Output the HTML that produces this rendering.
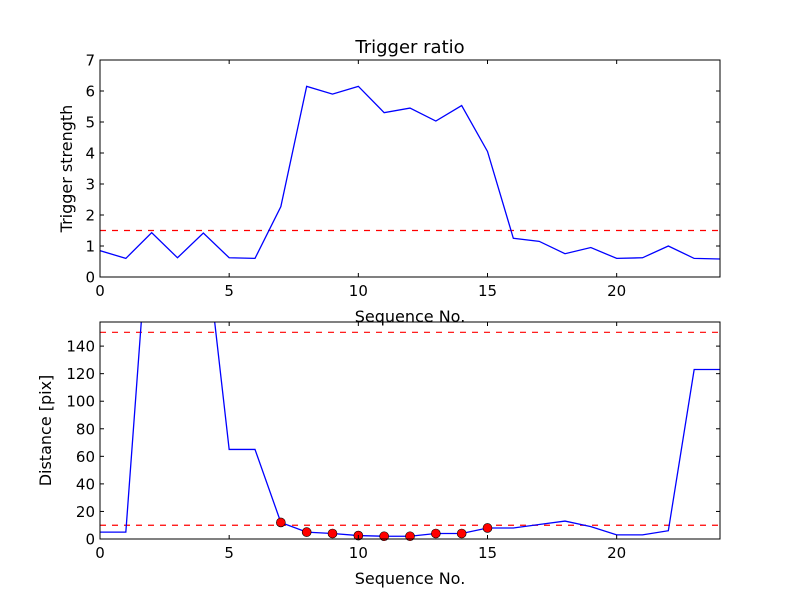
<!DOCTYPE html>
<html><head><meta charset="utf-8"><style>body{margin:0;background:#fff}svg{font-family:"DejaVu Sans","Liberation Sans",sans-serif}</style></head>
<body>
<svg id="c" width="800" height="600" xmlns="http://www.w3.org/2000/svg"></svg>
<script>
const seq = [0,1,2,3,4,5,6,7,8,9,10,11,12,13,14,15,16,17,18,19,20,21,22,23,24];
const ratio = [0.85,0.6,1.43,0.62,1.42,0.62,0.6,2.27,6.15,5.9,6.15,5.3,5.45,5.03,5.53,4.05,1.25,1.15,0.75,0.95,0.6,0.62,1.0,0.6,0.58];
const dist = [5,5,260,300,230,65,65,12,5,4,2.5,2,2,4,4,8,8,10.5,13,9,3,3,6,123,123];
const markIdx = [7,8,9,10,11,12,13,14,15];
const ratioThresh = 1.5;
const distThresh = [150,10];
const xTicks = [0,5,10,15,20];
const yTicksTop = [0,1,2,3,4,5,6,7];
const yTicksBot = [0,20,40,60,80,100,120,140];

const svg = document.getElementById('c');
const NS = 'http://www.w3.org/2000/svg';
function mk(t, a, parent){const e=document.createElementNS(NS,t);for(const k in a)e.setAttribute(k,a[k]);(parent||svg).appendChild(e);return e;}
const L=100,R=720;
const xs = v => L + (v-0)/(24-0)*(R-L);

function panel(top,bot,ymax,yt,vals,name,ylabel,title,thresholds,marks){
  const ys = v => bot - v/ymax*(bot-top);
  const g = mk('g',{});
  
  
  const defs=mk('clipPath',{id:'cl'+name},g); mk('rect',{x:L,y:top,width:R-L,height:bot-top},defs);
  thresholds.forEach(t=>{
    const l=mk('line',{x1:L,x2:R,y1:ys(t),y2:ys(t),stroke:'#ff0000','stroke-dasharray':'6,6','stroke-width':1.2},g);
    
    
  });
  const p=mk('polyline',{points:vals.map((v,i)=>xs(seq[i])+','+ys(v)).join(' '),fill:'none',stroke:'#0000ff','stroke-width':1.3,'clip-path':'url(#cl'+name+')'},g);
  
  
  if(marks) marks.forEach(i=>{
    const c=mk('circle',{cx:xs(seq[i]),cy:ys(vals[i]),r:4.5,fill:'#ff0000',stroke:'#000','stroke-width':0.6},g);
    
    
  });
  mk('rect',{x:L,y:top,width:R-L,height:bot-top,fill:'none',stroke:'#000','stroke-width':1},g);
  xTicks.forEach(t=>{
    const x=xs(t);
    mk('line',{x1:x,x2:x,y1:bot,y2:bot-4,stroke:'#000'},g);
    mk('line',{x1:x,x2:x,y1:top,y2:top+4,stroke:'#000'},g);
    const tx=mk('text',{x:x,y:bot+19,'text-anchor':'middle','font-size':15},g); tx.textContent=t;
    
    
  });
  yt.forEach(t=>{
    const y=ys(t);
    mk('line',{x1:L,x2:L+4,y1:y,y2:y,stroke:'#000'},g);
    mk('line',{x1:R,x2:R-4,y1:y,y2:y,stroke:'#000'},g);
    const tx=mk('text',{x:L-5,y:y+5.5,'text-anchor':'end','font-size':15},g); tx.textContent=t;
    
    
  });
  const xl=mk('text',{x:(L+R)/2,y:bot+45,'text-anchor':'middle','font-size':16},g); xl.textContent='Sequence No.';
  
  
  const yx = ylabel.startsWith('Trigger')?72:51;
  const yl=mk('text',{x:yx,y:(top+bot)/2,'text-anchor':'middle','font-size':16,transform:'rotate(-90 '+yx+' '+(top+bot)/2+')'},g); yl.textContent=ylabel;
  
  
  if(title){const tt=mk('text',{x:(L+R)/2,y:top-7,'text-anchor':'middle','font-size':18},g); tt.textContent=title;
    
    }
}
panel(60,277,7,yTicksTop,ratio,'trigger-panel','Trigger strength','Trigger ratio',[ratioThresh],null);
panel(322,539,157.5,yTicksBot,dist,'distance-panel','Distance [pix]',null,distThresh,markIdx);
</script>
</body></html>
